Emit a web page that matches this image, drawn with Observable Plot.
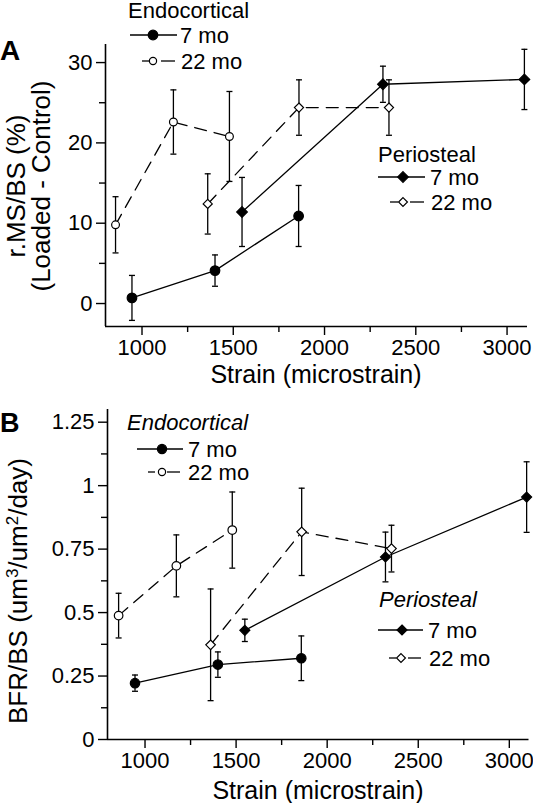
<!DOCTYPE html>
<html><head><meta charset="utf-8">
<script src="https://cdn.jsdelivr.net/npm/d3@7"></script>
<script src="https://cdn.jsdelivr.net/npm/@observablehq/plot@0.6"></script>
<style>
html,body{margin:0;padding:0;background:#fff;}
#chart svg{display:block;}
</style></head><body><div id="chart"></div>
<script>
// ---------- data ----------
const strainEndo7  = [945, 1400, 1858];
const strainEndo22 = [855, 1172, 1479];
const strainPeri7  = [1548, 2320, 3095];
const strainPeri22 = [1360, 1860, 2353];

// Panel A: r.MS/BS (%) (Loaded - Control)
const msEndo7  = [0.7, 4.1, 10.9];   const msEndo7Err  = [2.8, 1.95, 3.8];
const msEndo22 = [9.8, 22.6, 20.8];  const msEndo22Err = [3.5, 4.0, 5.6];
const msPeri7  = [11.4, 27.3, 27.9]; const msPeri7Err  = [4.3, 2.25, 3.75];
const msPeri22 = [12.4, 24.4, 24.4]; const msPeri22Err = [3.75, 3.45, 3.45];

// Panel B: BFR/BS (um3/um2/day)
const bfrEndo7  = [0.222, 0.295, 0.32];  const bfrEndo7Err  = [0.032, 0.05, 0.088];
const bfrEndo22 = [0.488, 0.684, 0.825]; const bfrEndo22Err = [0.088, 0.122, 0.15];
const bfrPeri7  = [0.43, 0.719, 0.955];  const bfrPeri7Err  = [0.044, 0.098, 0.139];
const bfrPeri22 = [0.373, 0.818, 0.752]; const bfrPeri22Err = [0.22, 0.172, 0.092];

// ticks & domains
const xTicks = [1000, 1500, 2000, 2500, 3000];
const xMinorTicks = [1250, 1750, 2250, 2750];
const msTicks = [0, 10, 20, 30];
const msMinorTicks = [5, 15, 25];
const bfrTicks = [0, 0.25, 0.5, 0.75, 1, 1.25];
const bfrMinorTicks = [0.125, 0.375, 0.625, 0.875, 1.125];
const xDomainA = [800, 3112];
const yDomainA = [-2.86, 32.25];
const xDomainB = [794, 3108];
const yDomainB = [0, 1.3];

// texts
const xTitle = "Strain (microstrain)";
const yTitleA = ["r.MS/BS (%)", "(Loaded - Control)"];
const siteLabels = ["Endocortical", "Periosteal"];
const ageLabels = ["7 mo", "22 mo"];

// ---------- drawing ----------
const FONT = '"Liberation Sans", Arial, Helvetica, sans-serif';
const capSymbol = {draw(ctx, size) { const h = Math.sqrt(size / Math.PI); ctx.moveTo(-h, 0); ctx.lineTo(h, 0); }};

function rowsOf(x, y, e) { return x.map((v, i) => ({x: v, y: y[i], lo: y[i] - e[i], hi: y[i] + e[i]})); }

function panel(cfg) {
  const marks = [
    Plot.axisX(xTicks, {tickSize: 9, tickPadding: 4, fontSize: 22, tickFormat: d => String(d), label: null, strokeWidth: 1.4}),
    Plot.axisX(xMinorTicks, {tickSize: 6, tickFormat: () => "", label: null, strokeWidth: 1.4}),
    Plot.axisY(cfg.yTicks, {tickSize: 9, tickPadding: 4, fontSize: 22, tickFormat: d => String(d), label: null, strokeWidth: 1.4}),
    Plot.axisY(cfg.yMinor, {tickSize: 6, tickFormat: () => "", label: null, strokeWidth: 1.4}),
    Plot.ruleX([cfg.xDomain[0]], {stroke: "black", strokeWidth: 1.6}),
    Plot.ruleY([cfg.yDomain[0]], {stroke: "black", strokeWidth: 1.6})
  ];
  const rowsAll = cfg.series.map(s => rowsOf(s.x, s.y, s.err));
  cfg.series.forEach((s, k) => {
    marks.push(Plot.line(rowsAll[k], {x: "x", y: "y", stroke: "black", strokeWidth: 1.3, strokeDasharray: s.dashed ? "12,8" : "none"}));
  });
  cfg.series.forEach((s, k) => {
    const rows = rowsAll[k];
    const caps = rows.flatMap(d => [{x: d.x, y: d.lo}, {x: d.x, y: d.hi}]);
    marks.push(Plot.ruleX(rows, {x: "x", y1: "lo", y2: "hi", stroke: "black", strokeWidth: 1.3}));
    marks.push(Plot.dot(caps, {x: "x", y: "y", symbol: capSymbol, r: 3, stroke: "black", strokeWidth: 1.3, fill: "none"}));
  });
  cfg.series.forEach((s, k) => {
    marks.push(Plot.dot(rowsAll[k], {x: "x", y: "y", symbol: s.shape, r: s.r, fill: s.filled ? "black" : "white", stroke: "black", strokeWidth: 1.2}));
  });
  return Plot.plot({
    width: 533, height: cfg.height,
    marginLeft: cfg.margin[3], marginRight: cfg.margin[1], marginTop: cfg.margin[0], marginBottom: cfg.margin[2],
    x: {type: "linear", domain: cfg.xDomain},
    y: {type: "linear", domain: cfg.yDomain},
    style: {fontFamily: FONT, color: "black", background: "white", overflow: "visible"},
    marks
  });
}

function symbolPath(shape, r) {
  const t = shape === "diamond2" ? d3.symbolDiamond2 : d3.symbolCircle;
  return d3.symbol().type(t).size(Math.PI * r * r)();
}

function overlay(svg, L) {
  const g = d3.select(svg).append("g").attr("font-family", FONT).attr("fill", "black")
    .attr("text-anchor", "start");
  g.append("text").attr("x", L.letter.x).attr("y", L.letter.y).attr("font-size", L.letter.size)
    .attr("font-weight", "bold").text(L.letter.text);
  // y title
  L.yTitle.forEach(t => {
    const tx = g.append("text").attr("transform", `translate(${t.cx},${t.cy}) rotate(-90)`)
      .attr("text-anchor", "middle").attr("dy", "0.35em").attr("font-size", L.titleSize);
    t.parts.forEach(p => {
      const sp = tx.append("tspan").text(p.text);
      if (p.sup) sp.attr("font-size", L.supSize).attr("dy", -L.supShift);
      if (p.after) sp.attr("dy", L.supShift);
    });
  });
  g.append("text").attr("x", L.xTitle.cx).attr("y", L.xTitle.y).attr("text-anchor", "middle")
    .attr("font-size", L.xTitleSize).text(xTitle);
  // legends
  L.legends.forEach(lg => {
    g.append("text").attr("x", lg.x).attr("y", lg.y).attr("font-size", L.legendSize)
      .attr("font-style", lg.italic ? "italic" : "normal").text(lg.title);
    lg.rows.forEach(r => {
      r.segs.forEach(([a, b]) => g.append("line").attr("x1", a).attr("x2", b).attr("y1", r.y).attr("y2", r.y)
        .attr("stroke", "black").attr("stroke-width", 1.3));
      g.append("path").attr("d", symbolPath(r.shape, r.r)).attr("transform", `translate(${r.mx},${r.y})`)
        .attr("fill", r.filled ? "black" : "white").attr("stroke", "black").attr("stroke-width", 1.2);
      g.append("text").attr("x", r.tx).attr("y", r.y).attr("dy", "0.35em").attr("font-size", L.legendSize).text(r.label);
    });
  });
}

const chart = document.getElementById("chart");

// Panel A
const svgA = panel({
  height: 395, margin: [44, 6, 69, 105],
  xDomain: xDomainA, yDomain: yDomainA, yTicks: msTicks, yMinor: msMinorTicks,
  series: [
    {x: strainEndo7, y: msEndo7, err: msEndo7Err, dashed: false, shape: "circle", filled: true, r: 4.8},
    {x: strainEndo22, y: msEndo22, err: msEndo22Err, dashed: true, shape: "circle", filled: false, r: 3.9},
    {x: strainPeri7, y: msPeri7, err: msPeri7Err, dashed: false, shape: "diamond2", filled: true, r: 4.8},
    {x: strainPeri22, y: msPeri22, err: msPeri22Err, dashed: true, shape: "diamond2", filled: false, r: 4.1}
  ]
});
chart.appendChild(svgA);
overlay(svgA, {
  letter: {text: "A", x: 0, y: 60, size: 28},
  titleSize: 26, supSize: 17, supShift: 9, xTitleSize: 25, legendSize: 22,
  yTitle: [{cx: 16, cy: 186, parts: [{text: yTitleA[0]}]}, {cx: 41, cy: 186, parts: [{text: yTitleA[1]}]}],
  xTitle: {cx: 316, y: 383},
  legends: [
    {title: siteLabels[0], italic: false, x: 128, y: 18, rows: [
      {y: 35, segs: [[130, 177]], shape: "circle", filled: true, r: 4.8, mx: 153, tx: 180, label: ageLabels[0]},
      {y: 61, segs: [[142, 149], [161, 175]], shape: "circle", filled: false, r: 3.6, mx: 153, tx: 181, label: ageLabels[1]}
    ]},
    {title: siteLabels[1], italic: false, x: 378, y: 162, rows: [
      {y: 177, segs: [[378, 425]], shape: "diamond2", filled: true, r: 4.8, mx: 403, tx: 430, label: ageLabels[0]},
      {y: 202, segs: [[390, 398], [410, 424]], shape: "diamond2", filled: false, r: 4.0, mx: 403, tx: 431, label: ageLabels[1]}
    ]}
  ]
});

// Panel B
const svgB = panel({
  height: 408, margin: [14, 4.5, 64, 107],
  xDomain: xDomainB, yDomain: yDomainB, yTicks: bfrTicks, yMinor: bfrMinorTicks,
  series: [
    {x: strainEndo7, y: bfrEndo7, err: bfrEndo7Err, dashed: false, shape: "circle", filled: true, r: 4.7},
    {x: strainEndo22, y: bfrEndo22, err: bfrEndo22Err, dashed: true, shape: "circle", filled: false, r: 4.3},
    {x: strainPeri7, y: bfrPeri7, err: bfrPeri7Err, dashed: false, shape: "diamond2", filled: true, r: 4.5},
    {x: strainPeri22, y: bfrPeri22, err: bfrPeri22Err, dashed: true, shape: "diamond2", filled: false, r: 4.3}
  ]
});
chart.appendChild(svgB);
overlay(svgB, {
  letter: {text: "B", x: 0, y: 37, size: 27},
  titleSize: 26, supSize: 17, supShift: 9, xTitleSize: 25, legendSize: 22,
  yTitle: [{cx: 18, cy: 196, parts: [
    {text: "BFR/BS (um"}, {text: "3", sup: true}, {text: "/um", after: true},
    {text: "2", sup: true}, {text: "/day)", after: true}]}],
  xTitle: {cx: 318, y: 404},
  legends: [
    {title: siteLabels[0], italic: true, x: 127, y: 35, rows: [
      {y: 54, segs: [[137, 183]], shape: "circle", filled: true, r: 4.6, mx: 162, tx: 188, label: ageLabels[0]},
      {y: 77, segs: [[148, 155], [167, 180]], shape: "circle", filled: false, r: 3.6, mx: 162, tx: 188, label: ageLabels[1]}
    ]},
    {title: siteLabels[1], italic: true, x: 379, y: 212, rows: [
      {y: 235, segs: [[378, 423]], shape: "diamond2", filled: true, r: 4.5, mx: 402, tx: 428, label: ageLabels[0]},
      {y: 263, segs: [[389, 396], [408, 421]], shape: "diamond2", filled: false, r: 4.0, mx: 401, tx: 429, label: ageLabels[1]}
    ]}
  ]
});
</script>
</body></html>
